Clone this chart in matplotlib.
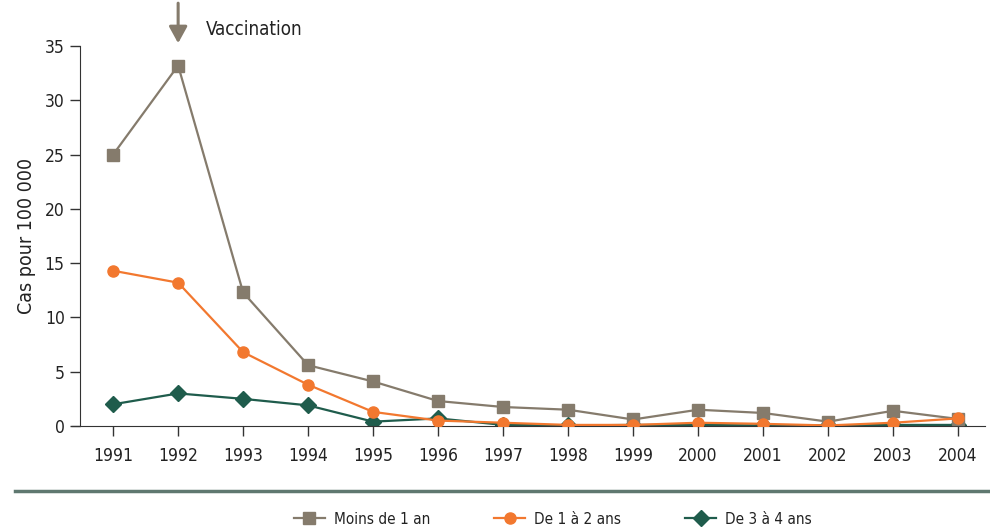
import numpy as np
import matplotlib
matplotlib.use("Agg")
import matplotlib.pyplot as plt
from matplotlib.lines import Line2D
from matplotlib import font_manager

# pick a narrow font if one is there
narrow = [f for f in font_manager.fontManager.ttflist
          if ('Narrow' in f.name or 'Condensed' in f.name or f.stretch in ('condensed', 'semi-condensed', 'extra-condensed', 600, 500))]
if narrow:
    plt.rcParams['font.family'] = [narrow[0].name, 'DejaVu Sans']
    plt.rcParams['font.stretch'] = narrow[0].stretch
else:
    plt.rcParams['font.family'] = ['DejaVu Sans']
    plt.rcParams['font.stretch'] = 'condensed'

# Data
years = list(range(1991, 2005))
moins_1an = [25.0, 33.2, 12.3, 5.6, 4.1, 2.3, 1.75, 1.5, 0.6, 1.5, 1.2, 0.4, 1.4, 0.65]
de_1_2ans = [14.3, 13.2, 6.8, 3.8, 1.3, 0.5, 0.3, 0.1, 0.1, 0.3, 0.2, 0.05, 0.3, 0.7]
de_3_4ans = [2.0, 3.0, 2.5, 1.9, 0.4, 0.7, 0.1, 0.05, 0.1, 0.1, 0.05, 0.05, 0.1, 0.1]
yticks = [0, 5, 10, 15, 20, 25, 30, 35]

c_gray = '#857b6c'
c_orange = '#f2782f'
c_green = '#1f5c4c'
c_text = '#222222'

fig = plt.figure(figsize=(9.9, 5.32), dpi=100)
ax = fig.add_axes([80/990, 106/532, 905/990, 380/532])

ax.plot(years, moins_1an, color=c_gray, marker='s', ms=9, lw=1.6, label='Moins de 1 an', zorder=3)
ax.plot(years, de_1_2ans, color=c_orange, marker='o', ms=8, lw=1.6, label='De 1 à 2 ans', zorder=4)
ax.plot(years, de_3_4ans, color=c_green, marker='D', ms=8, lw=1.6, label='De 3 à 4 ans', zorder=2)

ax.set_xlim(1990.49, 2004.415)
ax.set_ylim(0, 35)
ax.set_xticks(years)
ax.set_yticks(yticks)
ax.tick_params(labelsize=12.5, length=7, width=1, color='#333333', labelcolor=c_text, pad=4)
ax.tick_params(axis='x', pad=8)
for s in ['top', 'right']:
    ax.spines[s].set_visible(False)
ax.spines['left'].set_color('#333333')
ax.spines['bottom'].set_color('#333333')
ax.spines['bottom'].set_bounds(1990.37, 2004.415)
ax.set_ylabel('Cas pour 100 000', fontsize=14, labelpad=6, color=c_text)

# Vaccination arrow
ax.annotate('', xy=(1992, 35.0), xytext=(1992, 39.2),
            arrowprops=dict(arrowstyle='-|>,head_width=0.55,head_length=1.0', color=c_gray, lw=2.2),
            annotation_clip=False)
ax.text(1992.43, 36.5, 'Vaccination', fontsize=13.5, color=c_text, va='center', ha='left', clip_on=False)

# separator line
fig.add_artist(Line2D([15/990, 990/990], [1 - 491/532, 1 - 491/532], color='#5f7870', lw=2.5))

handles, labels = ax.get_legend_handles_labels()
leg = fig.legend(handles, labels, loc='center', bbox_to_anchor=(553/990, 1 - 519/532), ncol=3,
                 frameon=False, fontsize=11, columnspacing=4.2, handlelength=2.0, handletextpad=0.6)
for t in leg.get_texts():
    t.set_color(c_text)

fig.savefig('out.png', dpi=100)
